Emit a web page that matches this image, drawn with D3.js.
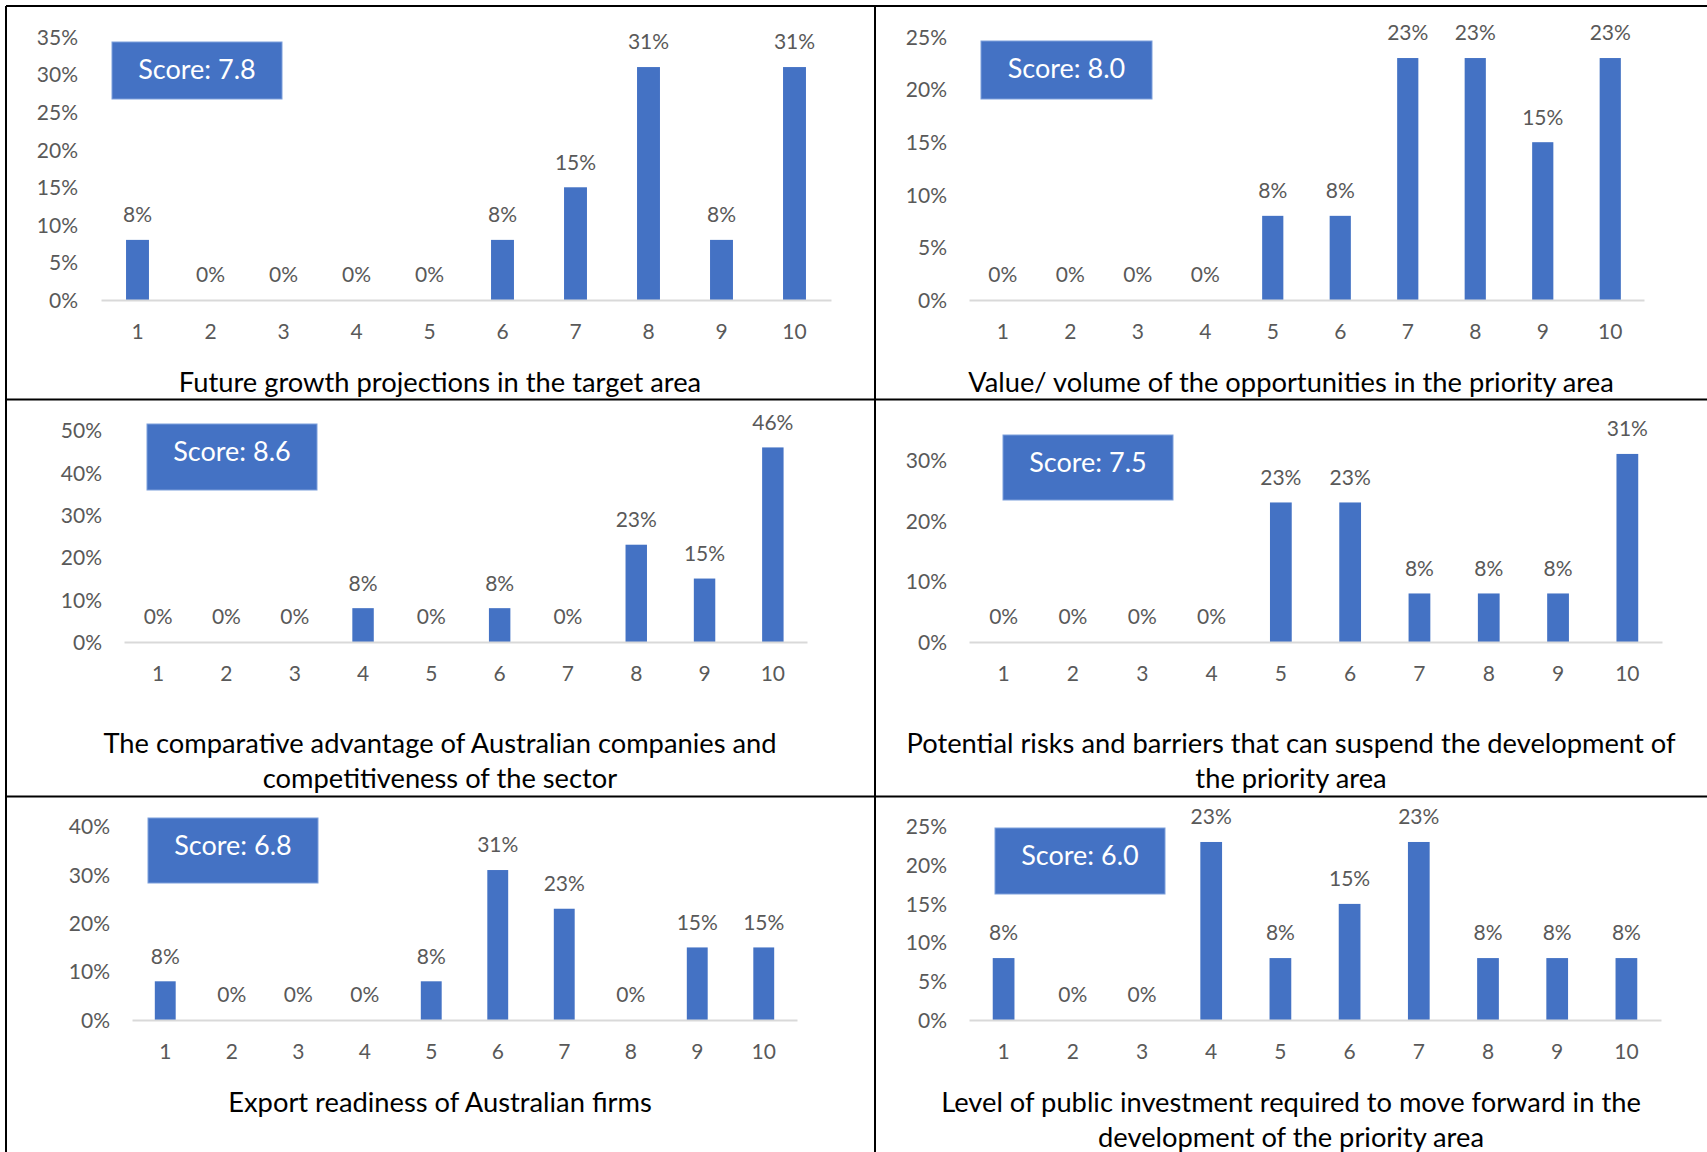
<!DOCTYPE html>
<html>
<head>
<meta charset="utf-8">
<script src="https://cdn.jsdelivr.net/npm/d3@7"></script>
<style>
  body { margin: 0; background: #fff; }
  svg { display: block; font-family: Lato, "Open Sans", sans-serif; }
</style>
</head>
<body>
<svg id="chart"></svg>
<script>
// ---- data (percent of respondents) ----
const categories = ["1", "2", "3", "4", "5", "6", "7", "8", "9", "10"];

const growthValues      = [8, 0, 0, 0, 0, 8, 15, 31, 8, 31];
const opportunityValues = [0, 0, 0, 0, 8, 8, 23, 23, 15, 23];
const advantageValues   = [0, 0, 0, 8, 0, 8, 0, 23, 15, 46];
const riskValues        = [0, 0, 0, 0, 23, 23, 8, 8, 8, 31];
const exportValues      = [8, 0, 0, 0, 8, 31, 23, 0, 15, 15];
const investmentValues  = [8, 0, 0, 23, 8, 15, 23, 8, 8, 8];

const scores = ["7.8", "8.0", "8.6", "7.5", "6.8", "6.0"];

const titles = [
    ["Future growth projections in the target area"],
    ["Value/ volume of the opportunities in the priority area"],
    ["The comparative advantage of Australian companies and", "competitiveness of the sector"],
    ["Potential risks and barriers that can suspend the development of", "the priority area"],
    ["Export readiness of Australian firms"],
    ["Level of public investment required to move forward in the", "development of the priority area"]
];

const yTicks = [
    [0, 5, 10, 15, 20, 25, 30, 35],
    [0, 5, 10, 15, 20, 25],
    [0, 10, 20, 30, 40, 50],
    [0, 10, 20, 30],
    [0, 10, 20, 30, 40],
    [0, 5, 10, 15, 20, 25]
];

const seriesList = [growthValues, opportunityValues, advantageValues, riskValues, exportValues, investmentValues];

// ---- layout of each panel (page pixels) ----
const panels = [
    {x0: 101, x1: 831,  base: 300,  topVal: 35, topY: 37,    labelX: 78,  box: [112, 42, 170, 57],  titleX: 440,  titleY: 382},
    {x0: 969, x1: 1644, base: 300,  topVal: 25, topY: 37,    labelX: 947, box: [981, 41, 171, 58],  titleX: 1291, titleY: 382},
    {x0: 124, x1: 807,  base: 642,  topVal: 50, topY: 430.5, labelX: 102, box: [147, 424, 170, 66], titleX: 440,  titleY: 743},
    {x0: 969, x1: 1662, base: 642,  topVal: 30, topY: 460,   labelX: 947, box: [1003, 435, 170, 65], titleX: 1291, titleY: 743},
    {x0: 132, x1: 797,  base: 1020, topVal: 40, topY: 826.5, labelX: 110, box: [148, 818, 170, 65], titleX: 440,  titleY: 1102},
    {x0: 969, x1: 1661, base: 1020, topVal: 25, topY: 826.5, labelX: 947, box: [995, 828, 170, 66], titleX: 1291, titleY: 1102}
];

const W = 1707, H = 1152;
const barColor = "#4472C4";
const labelColor = "#595959";

const svg = d3.select("#chart").attr("width", W).attr("height", H);
svg.append("rect").attr("width", W).attr("height", H).attr("fill", "#fff");

panels.forEach((p, i) => {
    const values = seriesList[i];
    const g = svg.append("g");

    const x = d3.scaleBand()
        .domain(categories)
        .range([p.x0, p.x1])
        .paddingInner(0.686)
        .paddingOuter(0.343);

    const y = d3.scaleLinear()
        .domain([0, p.topVal])
        .range([p.base, p.topY]);

    // y axis labels (no line, no grid)
    const ya = g.append("g")
        .attr("transform", "translate(" + p.labelX + ",0)")
        .call(d3.axisLeft(y).tickValues(yTicks[i]).tickSize(0).tickPadding(0).tickFormat(d => d + "%"));
    ya.select(".domain").remove();
    ya.selectAll("text")
        .attr("fill", labelColor)
        .attr("font-size", 21)
        .attr("font-family", "Lato, sans-serif")
        .attr("dy", "0.35em");

    // bars
    g.selectAll("rect.bar")
        .data(values)
        .enter()
        .append("rect")
            .attr("class", "bar")
            .attr("x", (d, j) => x(categories[j]))
            .attr("width", x.bandwidth())
            .attr("y", d => y(d))
            .attr("height", d => p.base - y(d))
            .attr("fill", barColor);

    // category axis
    const xa = g.append("g")
        .attr("transform", "translate(0," + p.base + ")")
        .call(d3.axisBottom(x).tickSize(0).tickSizeOuter(0));
    xa.select(".domain")
        .attr("stroke", "#D9D9D9")
        .attr("stroke-width", 2);
    xa.selectAll("text")
        .attr("fill", labelColor)
        .attr("font-size", 21)
        .attr("font-family", "Lato, sans-serif")
        .attr("y", 32)
        .attr("dy", "0.35em");

    // data labels
    g.selectAll("text.val")
        .data(values)
        .enter()
        .append("text")
            .attr("class", "val")
            .attr("x", (d, j) => x(categories[j]) + x.bandwidth() / 2)
            .attr("y", d => y(d) - 25)
            .attr("dy", "0.35em")
            .attr("text-anchor", "middle")
            .attr("font-size", 21)
            .attr("fill", labelColor)
            .text(d => d + "%");

    // score box
    const [bx, by, bw, bh] = p.box;
    g.append("rect")
        .attr("x", bx).attr("y", by)
        .attr("width", bw).attr("height", bh)
        .attr("fill", barColor)
        .attr("stroke", "#7C9FDB")
        .attr("stroke-width", 1);
    g.append("text")
        .attr("x", bx + bw / 2)
        .attr("y", by + 28)
        .attr("dy", "0.35em")
        .attr("text-anchor", "middle")
        .attr("font-size", 27)
        .attr("fill", "#fff")
        .text("Score: " + scores[i]);

    // title
    titles[i].forEach((line, k) => {
        g.append("text")
            .attr("x", p.titleX)
            .attr("y", p.titleY + k * 35.5)
            .attr("dy", "0.35em")
            .attr("text-anchor", "middle")
            .attr("font-size", 27.3)
            .attr("fill", "#000")
            .text(line);
    });
});

// table borders
const borders = [
    [6, 6, W, 6],
    [6, 399.5, W, 399.5],
    [6, 796.5, W, 796.5],
    [6, 6, 6, H],
    [875, 6, 875, H]
];
svg.selectAll("line.border")
    .data(borders)
    .enter()
    .append("line")
        .attr("class", "border")
        .attr("x1", d => d[0]).attr("y1", d => d[1])
        .attr("x2", d => d[2]).attr("y2", d => d[3])
        .attr("stroke", "#000")
        .attr("stroke-width", 2);
</script>
</body>
</html>
